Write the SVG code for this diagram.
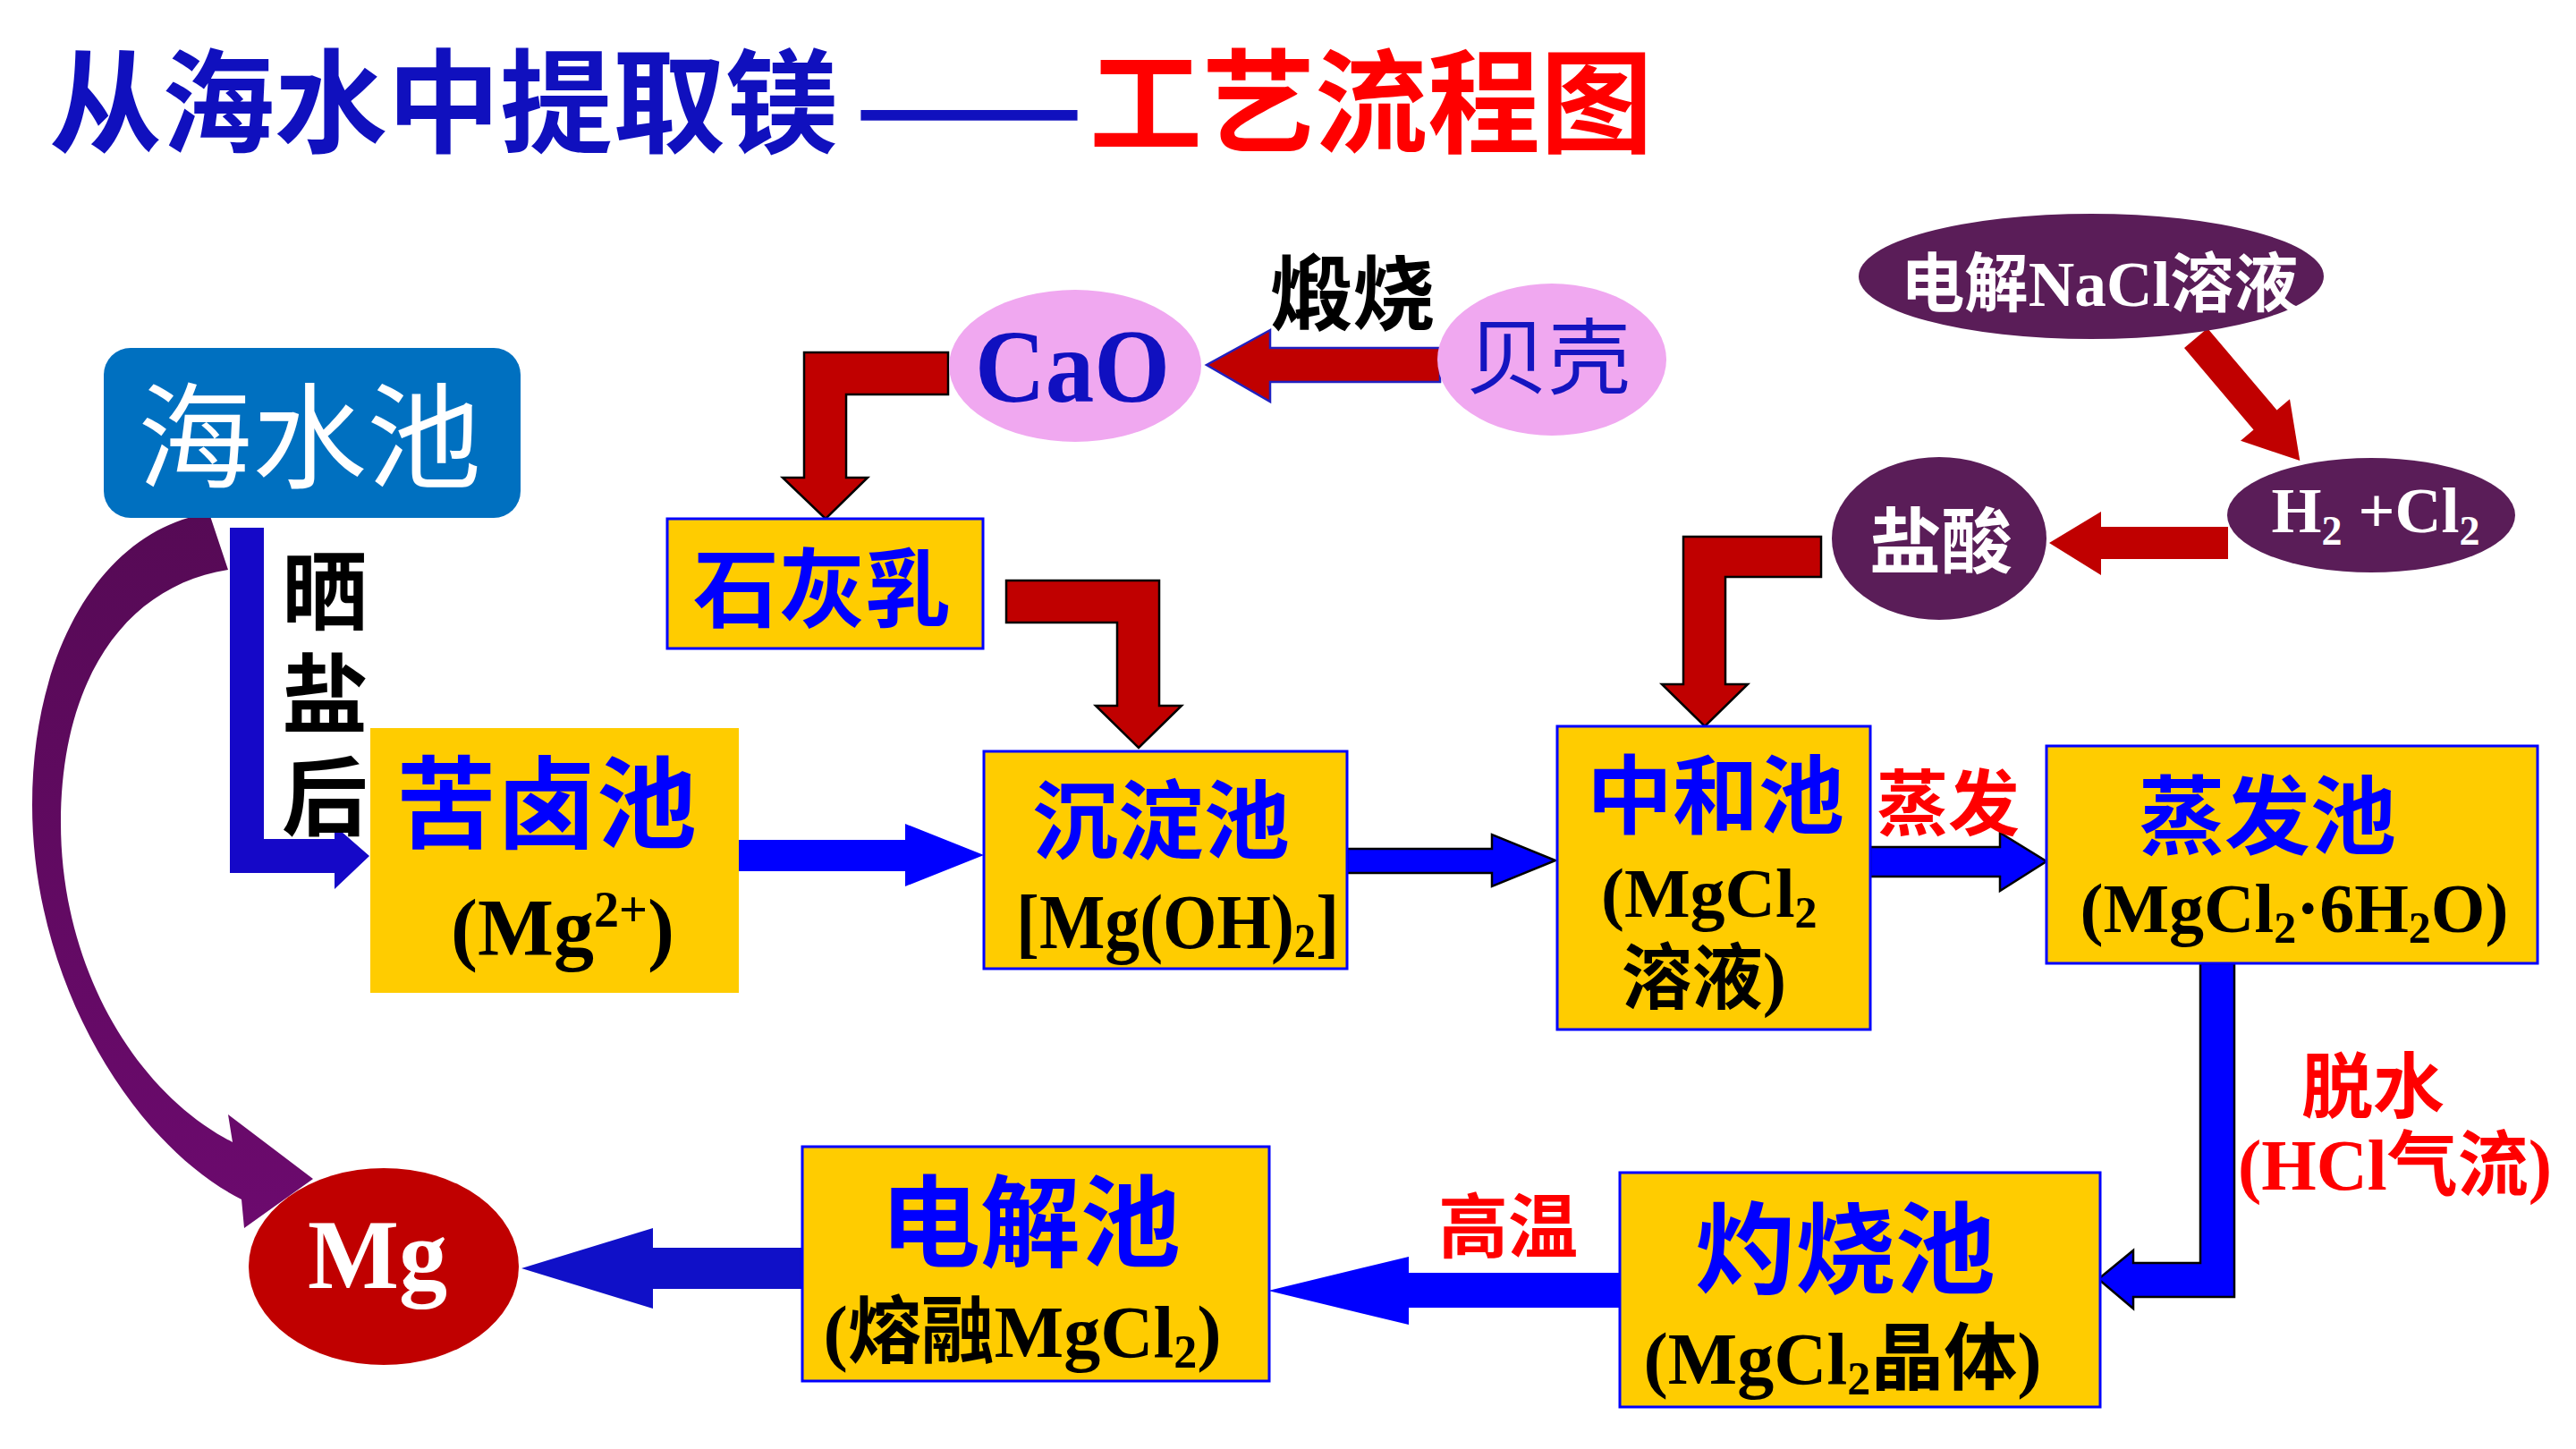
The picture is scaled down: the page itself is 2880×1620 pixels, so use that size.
<svg xmlns="http://www.w3.org/2000/svg" width="2880" height="1620" viewBox="0 0 2880 1620">
<defs>
<linearGradient id="purp" x1="0" y1="0" x2="0" y2="1">
<stop offset="0" stop-color="#560A55"/>
<stop offset="1" stop-color="#6C0A6E"/>
</linearGradient>
</defs>
<style>
.box{fill:#FFCC00;stroke:#0000FF;stroke-width:3}
.cjk{font-family:"Noto Sans CJK SC",sans-serif;font-weight:700}
.cjkn{font-family:"Noto Sans CJK SC",sans-serif;font-weight:400}
.ser{font-family:"Liberation Serif","Noto Sans CJK SC",serif;font-weight:700}
.mid{text-anchor:middle}
.blue{fill:#0000FF}
.red{fill:#FF0000}
.blk{fill:#000000}
.wht{fill:#FFFFFF}
.redarrow{fill:#C00000;stroke:#000000;stroke-width:2.5}
.bluearrow{fill:#0000FF;stroke:#000000;stroke-width:2.5}
</style>
<rect width="2880" height="1620" fill="#FFFFFF"/>

<g id="title">
<text x="55" y="161" class="cjk" font-size="126" fill="#1010BE">从海水中提取镁</text>
<text x="955" y="165" class="cjk" font-size="126" fill="#1010BE" textLength="257" lengthAdjust="spacingAndGlyphs">——</text>
<text x="1218" y="161" class="cjk red" font-size="126">工艺流程图</text>
</g>

<g id="connectors">
<path d="M 234,574 C 120,590 36,720 36,900 C 36,1100 150,1280 270,1341 L 273,1373 L 350,1318 L 255,1246 L 260,1277 C 150,1220 68,1080 68,920 C 68,760 140,655 255,637 Z" fill="url(#purp)"/>
<polygon points="257,590 295,590 295,938 374,938 374,923 413,957 374,994 374,976 257,976" fill="#1508C8"/>
<polygon points="826,939 1012,939 1012,921 1100,956 1012,991 1012,974 826,974" fill="#0000FF"/>
<polygon class="bluearrow" points="1506,949 1668,949 1668,933 1739,962 1668,991 1668,976 1506,976"/>
<polygon class="bluearrow" points="2091,947 2236,947 2236,931 2288,963 2236,996 2236,980 2091,980"/>
<polygon class="bluearrow" points="2460,1077 2498,1077 2498,1450 2385,1450 2385,1463 2346,1430 2385,1398 2385,1412 2460,1412"/>
<polygon points="1811,1423 1575,1423 1575,1405 1418,1443 1575,1481 1575,1462 1811,1462" fill="#0000FF"/>
<polygon points="897,1395 730,1395 730,1373 583,1418 730,1463 730,1441 897,1441" fill="#1010C8"/>
<polygon points="1610,389 1420,389 1420,369 1349,408 1420,449 1420,427 1610,427" fill="#C00000" stroke="#2020C0" stroke-width="2.5"/>
<polygon class="redarrow" points="1060,394 899,394 899,534 875,534 923,580 970,534 946,534 946,441 1060,441"/>
<polygon class="redarrow" points="1125,649 1296,649 1296,789 1321,789 1273,836 1225,789 1249,789 1249,696 1125,696"/>
<polygon class="redarrow" points="2036,600 1882,600 1882,765 1858,765 1906,812 1954,765 1929,765 1929,645 2036,645"/>
<polygon points="2491,589 2349,589 2349,572 2291,607 2349,643 2349,625 2491,625" fill="#C00000"/>
<polygon points="2468,367 2545.5,458.4 2560,446.2 2571.3,515.1 2505,492.7 2519.5,480.4 2442,389" fill="#C00000"/>

<text class="cjk blk" font-size="96" x="363" y="612" style="writing-mode:vertical-rl" letter-spacing="19">晒盐后</text>
<text class="cjk blk mid" font-size="92" x="1512" y="362">煅烧</text>
<text class="cjk red mid" font-size="80" x="2178" y="927">蒸发</text>
<text class="cjk red mid" font-size="80" x="2653" y="1243">脱水</text>
<text class="ser red" font-size="80" x="2502" y="1330" textLength="351" lengthAdjust="spacingAndGlyphs">(HCl气流)</text>
<text class="cjk red mid" font-size="78" x="1686" y="1400">高温</text>
</g>

<g id="node-haishuichi">
<rect x="116" y="389" width="466" height="190" rx="30" fill="#0070C0"/>
<text class="cjkn wht mid" font-size="128" x="346" y="536">海水池</text>
</g>

<g id="node-kuluchi">
<rect x="414" y="814" width="412" height="296" fill="#FFCC00"/>
<text class="cjk blue mid" font-size="112" x="611" y="940">苦卤池</text>
<text class="ser blk mid" font-size="90" x="629" y="1068">(Mg<tspan font-size="56" dy="-32">2+</tspan><tspan dy="32">)</tspan></text>
</g>

<g id="node-shihuiru">
<rect class="box" x="746" y="580" width="353" height="145"/>
<text class="cjk blue mid" font-size="96" x="919" y="693">石灰乳</text>
</g>

<g id="node-chendianchi">
<rect class="box" x="1100" y="840" width="406" height="243"/>
<text class="cjk blue mid" font-size="96" x="1298" y="952">沉淀池</text>
<text class="ser blk" font-size="86" transform="translate(1136,1060) scale(0.904,1)" x="0" y="0">[Mg(OH)<tspan font-size="54" dy="10">2</tspan><tspan dy="-10">]</tspan></text>
</g>

<g id="node-zhonghechi">
<rect class="box" x="1741" y="812" width="350" height="339"/>
<text class="cjk blue mid" font-size="96" x="1918" y="924">中和池</text>
<text class="ser blk" font-size="78" x="1790" y="1025">(MgCl<tspan font-size="50" dy="12">2</tspan></text>
<text class="ser blk" font-size="80" x="1813" y="1121" textLength="184" lengthAdjust="spacingAndGlyphs">溶液)</text>
</g>

<g id="node-zhengfachi">
<rect class="box" x="2288" y="834" width="549" height="243"/>
<text class="cjk blue mid" font-size="96" x="2535" y="947">蒸发池</text>
<text class="ser blk mid" font-size="78" x="2565" y="1042">(MgCl<tspan font-size="50" dy="12">2</tspan><tspan dy="-12">·6H</tspan><tspan font-size="50" dy="12">2</tspan><tspan dy="-12">O)</tspan></text>
</g>

<g id="node-zhuoshaochi">
<rect class="box" x="1811" y="1311" width="537" height="262"/>
<text class="cjk blue mid" font-size="112" x="2063" y="1438">灼烧池</text>
<text class="ser blk mid" font-size="82" x="2060" y="1547">(MgCl<tspan font-size="52" dy="12">2</tspan><tspan dy="-12">晶体)</tspan></text>
</g>

<g id="node-dianjiechi">
<rect class="box" x="897" y="1282" width="522" height="262"/>
<text class="cjk blue mid" font-size="112" x="1152" y="1408">电解池</text>
<text class="ser blk mid" font-size="82" x="1143" y="1517">(熔融MgCl<tspan font-size="52" dy="12">2</tspan><tspan dy="-12">)</tspan></text>
</g>

<g id="node-mg">
<ellipse cx="429" cy="1416" rx="151" ry="110" fill="#C00000"/>
<text class="ser wht" font-size="110" x="344" y="1440" textLength="156" lengthAdjust="spacingAndGlyphs">Mg</text>
</g>

<g id="node-beike">
<ellipse cx="1735" cy="402" rx="128" ry="85" fill="#F0A8F0"/>
<text class="cjkn mid" font-size="92" x="1731" y="433" fill="#1515C0">贝壳</text>
</g>

<g id="node-cao">
<ellipse cx="1202" cy="409" rx="141" ry="85" fill="#F0A8F0"/>
<text class="ser" font-size="116" x="1090" y="449" fill="#1010C0" textLength="218" lengthAdjust="spacingAndGlyphs">CaO</text>
</g>

<g id="node-dianjienacl">
<ellipse cx="2338" cy="309" rx="260" ry="70" fill="#5A1D58"/>
<text class="ser wht" font-size="72" x="2125" y="342" textLength="444" lengthAdjust="spacingAndGlyphs">电解NaCl溶液</text>
</g>

<g id="node-h2cl2">
<ellipse cx="2651" cy="576" rx="161" ry="64" fill="#5A1D58"/>
<text class="ser wht mid" font-size="72" x="2656" y="595">H<tspan font-size="46" dy="14">2</tspan><tspan dy="-14"> +Cl</tspan><tspan font-size="46" dy="14">2</tspan></text>
</g>

<g id="node-yansuan">
<ellipse cx="2168" cy="602" rx="120" ry="91" fill="#5A1D58"/>
<text class="cjk wht mid" font-size="80" x="2170" y="634">盐酸</text>
</g>
</svg>
